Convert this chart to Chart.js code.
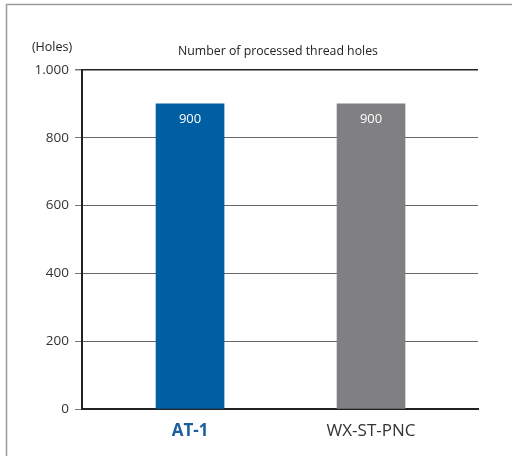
<!DOCTYPE html>
<html>
<head>
<meta charset="utf-8">
<script src="https://cdn.jsdelivr.net/npm/chart.js@4"></script>
<style>
  html, body { margin: 0; padding: 0; background: #fff; }
  #wrap { width: 512px; height: 456px; }
</style>
</head>
<body>
<div id="wrap"><canvas id="holesChart" width="512" height="456"></canvas></div>
<script>
// Data
const categories = ['AT-1', 'WX-ST-PNC'];
const holes = [900, 900];
const barColors = ['#005ea2', '#808083'];
const labelColors = ['#1a5e9e', '#333333'];
const yTicks = [0, 200, 400, 600, 800, 1000];
const yTickLabels = ['0', '200', '400', '600', '800', '1.000'];
const chartTitle = 'Number of processed thread holes';
const unitLabel = '(Holes)';

const FONT = '"Open Sans", "Noto Sans", sans-serif';

// --- Frame, titles and value labels ---
const decorPlugin = {
    id: 'decor',
    beforeDraw(chart) {
        const ctx = chart.ctx;
        ctx.save();
        ctx.strokeStyle = '#9a9a9a';
        ctx.lineWidth = 1.5;
        ctx.beginPath();
        ctx.moveTo(6.5, 456);
        ctx.lineTo(6.5, 4.5);
        ctx.lineTo(512, 4.5);
        ctx.stroke();
        ctx.restore();
    },
    afterDraw(chart) {
        const ctx = chart.ctx;
        const area = chart.chartArea;
        ctx.save();
        ctx.fillStyle = '#222';
        ctx.textBaseline = 'middle';
        ctx.textAlign = 'center';
        ctx.font = '12.3px ' + FONT;
        ctx.fillText(chartTitle, 278, 51);
        ctx.font = '12.5px ' + FONT;
        ctx.fillText(unitLabel, 52, 47);
        ctx.restore();
    },
    afterDatasetsDraw(chart) {
        const ctx = chart.ctx;
        const meta = chart.getDatasetMeta(0);
        ctx.save();
        ctx.fillStyle = '#fff';
        ctx.textAlign = 'center';
        ctx.textBaseline = 'middle';
        ctx.font = '13px ' + FONT;
        meta.data.forEach((bar, i) => {
            ctx.fillText(String(holes[i]), bar.x, bar.y + 15);
        });
        ctx.restore();
    }
};

const ctx = document.getElementById('holesChart').getContext('2d');
new Chart(ctx, {
    type: 'bar',
    data: {
        datasets: [{
            data: holes.map((v, i) => ({ x: i, y: v })),
            backgroundColor: barColors,
            borderWidth: 0,
            barThickness: 68
        }]
    },
    options: {
        responsive: false,
        animation: false,
        layout: { padding: { left: 0, right: 34, top: 70, bottom: 0 } },
        plugins: {
            legend: { display: false },
            tooltip: { enabled: false }
        },
        scales: {
            x: {
                type: 'linear',
                offset: false,
                min: -0.597,
                max: 1.591,
                afterFit(scale) { scale.height = 47; },
                afterBuildTicks(scale) {
                    scale.ticks = categories.map((c, i) => ({ value: i }));
                },
                grid: { display: false, drawTicks: false },
                border: { color: '#222', width: 2 },
                ticks: {
                    padding: 12,
                    autoSkip: false,
                    maxRotation: 0,
                    callback: (v, i) => categories[i],
                    color: (c) => labelColors[c.index] || '#333',
                    font: (c) => ({
                        family: FONT,
                        size: 17,
                        weight: c.index === 0 ? 'bold' : 'normal'
                    })
                }
            },
            y: {
                min: 0,
                max: 1000,
                afterFit(scale) { scale.width = 82; },
                afterBuildTicks(scale) {
                    scale.ticks = yTicks.map(v => ({ value: v }));
                },
                grid: {
                    color: (c) => c.index === yTicks.length - 1 ? '#222' : '#666',
                    lineWidth: (c) => c.index === yTicks.length - 1 ? 1.5 : 1,
                    tickColor: '#777',
                    tickLength: 7
                },
                border: { color: '#222', width: 2 },
                ticks: {
                    padding: 6,
                    color: '#333',
                    font: { family: FONT, size: 13.5 },
                    callback: (v, i) => yTickLabels[i]
                }
            }
        }
    },
    plugins: [decorPlugin]
});
</script>
</body>
</html>
